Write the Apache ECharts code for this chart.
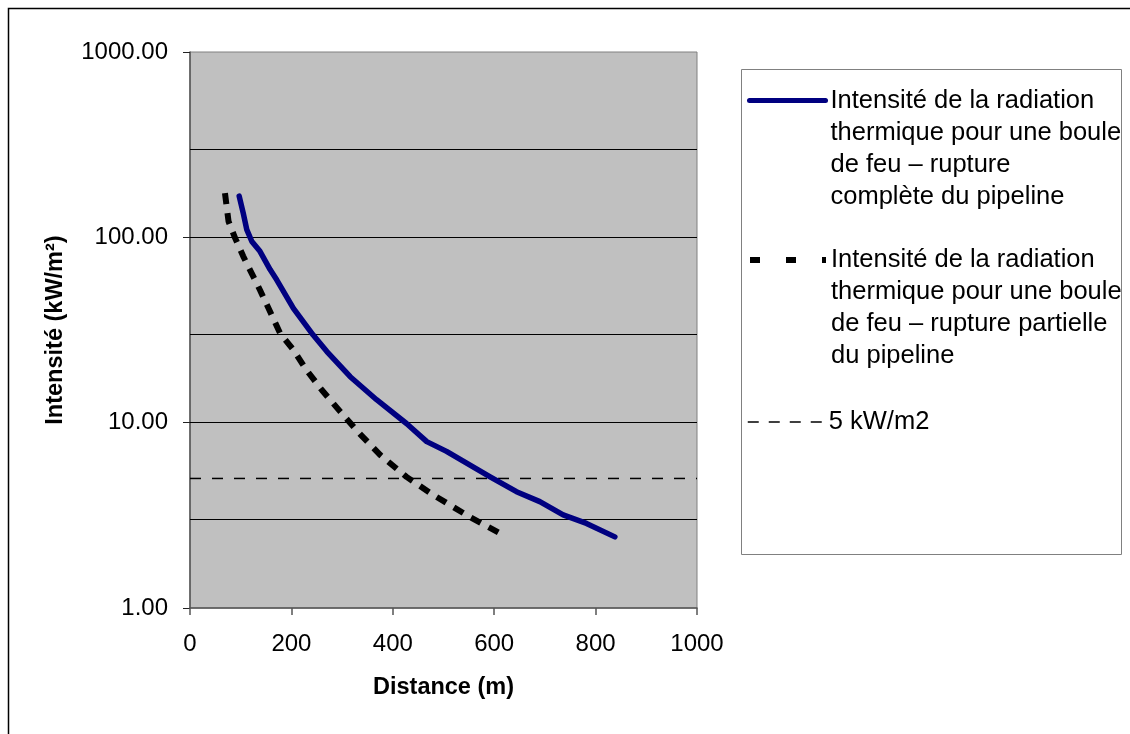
<!DOCTYPE html>
<html><head><meta charset="utf-8">
<script src="https://cdn.jsdelivr.net/npm/echarts@6/dist/echarts.min.js"></script>
<style>html,body{margin:0;padding:0;background:#fff}#c{width:1130px;height:734px}</style>
</head><body><div id="c"></div>
<script>
// ---- data ----
const seriesNames = [
  "Intensité de la radiation\nthermique pour une boule\nde feu – rupture\ncomplète du pipeline",
  "Intensité de la radiation\nthermique pour une boule\nde feu – rupture partielle\ndu pipeline",
  "5 kW/m2"
];
const distComplete = [97, 105, 112, 122, 138, 158, 171, 204, 243, 270, 316, 368, 427, 467, 506, 592, 644, 690, 736, 782, 838];
const intComplete  = [167, 135, 110, 95, 84, 67, 59, 41.4, 29.7, 24.2, 17.7, 13.3, 9.9, 7.9, 7.0, 5.1, 4.24, 3.75, 3.18, 2.86, 2.42];
const distPartial  = [69, 76, 89, 105, 138, 178, 204, 230, 260, 296, 335, 375, 427, 480, 552, 620];
const intPartial   = [173, 122, 99, 79, 52, 30.3, 24.7, 19.2, 15.0, 11.5, 8.7, 6.7, 5.1, 4.07, 3.10, 2.46];
const distThreshold = [0, 1000];
const intThreshold  = [5, 5];
const xTicks = [0, 200, 400, 600, 800, 1000];
const yTicks = [1, 10, 100, 1000];
const yGridLines = [3, 10, 30, 100, 300];
const xTitle = "Distance (m)";
const yTitle = "Intensité (kW/m²)";

// ---- chart ----
const FONT = "'Liberation Sans', Arial, sans-serif";
const zip = (a, b) => a.map((v, i) => [v, b[i]]);
const chart = echarts.init(document.getElementById('c'), null, {renderer: 'canvas'});

const legendText = {
  fontFamily: FONT, fontSize: 25.5, lineHeight: 32, color: '#000',
  backgroundColor: 'rgba(0,0,0,0)'
};
// first text line aligned with the legend line sample
const topAligned = name => {
  const n = name.split('\n').length - 1;
  return '\n'.repeat(n) + name;
};
const legendBase = {orient: 'vertical', left: 747, padding: 0, itemWidth: 76, itemHeight: 14,
  itemGap: 0, selectedMode: false, itemStyle: {opacity: 0}, textStyle: legendText,
  formatter: topAligned};

chart.setOption({
  animation: false,
  backgroundColor: '#fff',
  graphic: [
    {type: 'rect', z: -10, silent: true, shape: {x: 8.5, y: 8.5, width: 1200, height: 800},
     style: {fill: 'none', stroke: '#000', lineWidth: 1.5}},
    {type: 'rect', z: 0, silent: true, shape: {x: 741.5, y: 69.5, width: 380, height: 485},
     style: {fill: '#fff', stroke: '#808080', lineWidth: 1}}
  ],
  grid: {left: 190, right: 433, top: 52, bottom: 126, show: true,
         backgroundColor: '#c0c0c0', borderColor: '#808080', borderWidth: 1},
  legend: [
    Object.assign({}, legendBase, {data: [seriesNames[0]], top: -11.5,
      lineStyle: {width: 5, cap: 'round'}}),
    Object.assign({}, legendBase, {data: [seriesNames[1]], top: 148,
      lineStyle: {width: 6, type: [10, 26]}}),
    Object.assign({}, legendBase, {data: [seriesNames[2]], top: 406,
      lineStyle: {width: 1.5, type: [11, 10]}})
  ],
  xAxis: {
    type: 'value', min: xTicks[0], max: xTicks[xTicks.length - 1], interval: xTicks[1] - xTicks[0],
    name: xTitle, nameLocation: 'middle', nameGap: 68,
    nameTextStyle: {fontFamily: FONT, fontSize: 23.5, fontWeight: 'bold', color: '#000'},
    axisLine: {show: true, lineStyle: {color: '#555', width: 1.5}},
    axisTick: {show: true, inside: false, length: 7, lineStyle: {color: '#555', width: 1.5}},
    axisLabel: {fontFamily: FONT, fontSize: 24, color: '#000', margin: 24,
                formatter: v => String(v)},
    splitLine: {show: false}
  },
  yAxis: {
    type: 'log', logBase: 10, min: yTicks[0], max: yTicks[yTicks.length - 1],
    name: yTitle, nameLocation: 'middle', nameGap: 122,
    nameTextStyle: {fontFamily: FONT, fontSize: 23.5, fontWeight: 'bold', color: '#000'},
    axisLine: {show: true, lineStyle: {color: '#555', width: 1.5}},
    axisTick: {show: true, inside: false, length: 7, lineStyle: {color: '#222', width: 1}},
    axisLabel: {fontFamily: FONT, fontSize: 24, color: '#000', margin: 22,
                formatter: v => Number(v).toFixed(2)},
    splitLine: {show: false}
  },
  series: [
    {name: seriesNames[0], type: 'line', data: zip(distComplete, intComplete),
     symbol: 'none', z: 4, silent: true,
     lineStyle: {color: '#000080', width: 5.5, cap: 'round', join: 'round'},
     itemStyle: {color: '#000080'}},
    {name: seriesNames[1], type: 'line', data: zip(distPartial, intPartial),
     symbol: 'none', z: 3, silent: true,
     lineStyle: {color: '#000', width: 6, type: [11, 9], cap: 'butt', join: 'round'},
     itemStyle: {color: '#000'}},
    {name: seriesNames[2], type: 'line', data: zip(distThreshold, intThreshold),
     symbol: 'none', z: 3, silent: true,
     lineStyle: {color: '#000', width: 1.5, type: [11, 11]},
     itemStyle: {color: '#000'},
     markLine: {silent: true, z: 1, symbol: ['none', 'none'], animation: false,
                label: {show: false},
                lineStyle: {color: '#000', width: 1, type: 'solid'},
                data: yGridLines.map(v => ({yAxis: v}))}}
  ]
});
</script></body></html>
